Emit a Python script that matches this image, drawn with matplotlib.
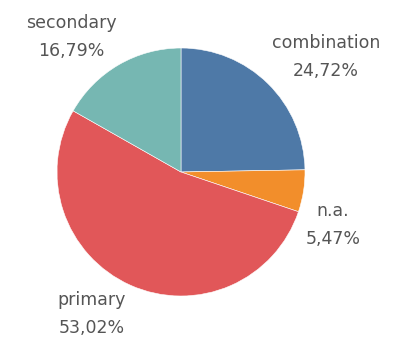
import matplotlib.pyplot as plt

# slices, clockwise from 12 o'clock
labels = ["combination", "n.a.", "primary", "secondary"]
shares = [24.72, 5.47, 53.02, 16.79]
colors = ["#4E79A7", "#F28E2B", "#E15759", "#76B7B2"]

W, H = 404, 347
fig = plt.figure(figsize=(W / 100, H / 100), dpi=100)
ax = fig.add_axes([0, 0, 1, 1])

ax.pie(shares, colors=colors, startangle=90, counterclock=False,
       center=(181, H - 172), radius=124, frame=True,
       wedgeprops=dict(linewidth=0.4, edgecolor="white"))
ax.set_xlim(0, W)
ax.set_ylim(0, H)
ax.set_aspect("equal")
ax.axis("off")

# label positions in pixels (x, y from top)
label_pos = [(326, 57), (333, 225), (92, 314), (71, 37)]
for lab, val, (x, y) in zip(labels, shares, label_pos):
    txt = lab + "\n" + f"{val:.2f}%".replace(".", ",")
    ax.text(x, H - y, txt, ha="center", va="center", fontsize=12.5,
            color="#555555", linespacing=1.75)

fig.savefig("out.png", dpi=100)
